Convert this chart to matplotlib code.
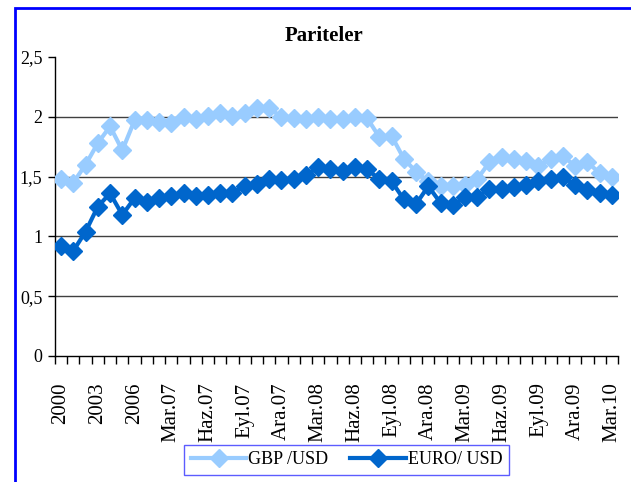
import matplotlib
matplotlib.use('Agg')
import matplotlib.pyplot as plt
from matplotlib.patches import Rectangle

# Categories: yearly up to 2006, then monthly from Oca.07 to Mar.10
years = ['2000', '2001', '2002', '2003', '2004', '2005', '2006']
months = ['Oca', 'Şub', 'Mar', 'Nis', 'May', 'Haz',
          'Tem', 'Ağu', 'Eyl', 'Eki', 'Kas', 'Ara']
categories = years + [m + '.07' for m in months] + [m + '.08' for m in months] \
    + [m + '.09' for m in months] + ['Oca.10', 'Şub.10', 'Mar.10']

gbp_usd = [1.48, 1.45, 1.60, 1.78, 1.92, 1.72, 1.97, 1.97, 1.96, 1.95,
           2.00, 1.98, 2.01, 2.03, 2.01, 2.03, 2.07, 2.07, 2.00, 1.99,
           1.98, 2.00, 1.98, 1.98, 2.00, 1.99, 1.83, 1.84, 1.65, 1.54,
           1.46, 1.42, 1.42, 1.43, 1.48, 1.62, 1.66, 1.65, 1.63, 1.59,
           1.65, 1.67, 1.59, 1.62, 1.53, 1.50]
euro_usd = [0.92, 0.88, 1.04, 1.25, 1.36, 1.18, 1.32, 1.29, 1.32, 1.34,
            1.36, 1.34, 1.35, 1.36, 1.36, 1.42, 1.44, 1.48, 1.47, 1.48,
            1.51, 1.58, 1.56, 1.55, 1.58, 1.56, 1.48, 1.46, 1.31, 1.27,
            1.42, 1.28, 1.26, 1.33, 1.33, 1.40, 1.40, 1.41, 1.43, 1.46,
            1.48, 1.50, 1.43, 1.39, 1.36, 1.35]
y_ticks = [0, 0.5, 1, 1.5, 2, 2.5]
y_labels = ['0', '0,5', '1', '1,5', '2', '2,5']

plt.rcParams['font.family'] = ['Liberation Serif', 'DejaVu Serif']

W, H = 631, 482
fig = plt.figure(figsize=(W / 100, H / 100), dpi=100)
ax = fig.add_axes([55 / W, 1 - 356 / H, (618 - 55) / W, (356 - 57) / H])

x = list(range(len(categories)))
ax.plot(x, gbp_usd, color='#99CCFF', lw=3, marker='D', ms=9,
        label='GBP /USD', zorder=3)
ax.plot(x, euro_usd, color='#0066CC', lw=3, marker='D', ms=9,
        label='EURO/ USD', zorder=4)

ax.set_xlim(-0.5, len(categories) - 0.5)
ax.set_ylim(0, 2.5)

# Gridlines only at inner values
for v in y_ticks[1:-1]:
    ax.axhline(v, color='#404040', lw=1, zorder=1)

ax.set_yticks(y_ticks, y_labels, fontsize=13)
ax.tick_params(axis='y', direction='out', length=5, width=1, pad=4)

ax.set_xticks(x[::3], categories[::3], rotation=90, fontsize=15)
ax.set_xticks([i - 0.5 for i in range(len(categories) + 1)], minor=True)
ax.tick_params(axis='x', which='major', length=0, pad=19)
ax.tick_params(axis='x', which='minor', direction='out', length=6, width=1)

for side in ['top', 'right']:
    ax.spines[side].set_visible(False)
ax.spines['left'].set_linewidth(1)
ax.spines['bottom'].set_linewidth(1)

fig.text(324 / W, 1 - 36 / H, 'Pariteler', ha='center', va='center',
         fontsize=15, fontweight='bold')

leg = fig.legend(loc='center', bbox_to_anchor=(346.5 / W, 1 - 460 / H),
                 ncol=2, fontsize=13, frameon=True, fancybox=False,
                 handlelength=3.1, columnspacing=1.2, handletextpad=0.1,
                 borderpad=0.35)
leg.get_frame().set_edgecolor('#3333FF')
leg.get_frame().set_linewidth(1)

# Blue chart border (left and top visible)
fig.add_artist(Rectangle((14.5 / W, -0.1), 1.2, 1.1 - 8 / H,
                         transform=fig.transFigure, fill=False,
                         edgecolor='#0000FF', lw=2))

fig.savefig('out.png', dpi=100)
